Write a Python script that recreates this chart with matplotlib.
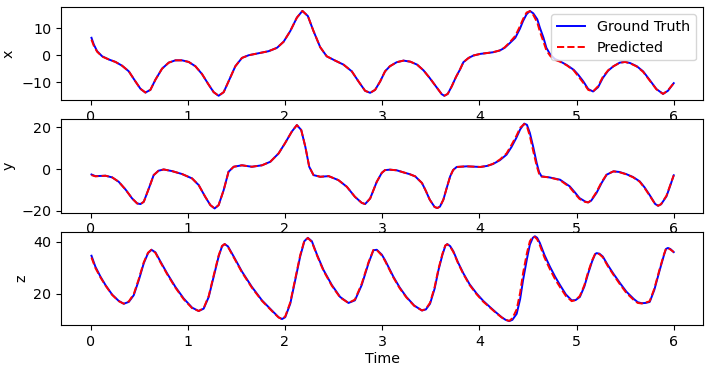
import matplotlib
matplotlib.use("Agg")
import matplotlib.pyplot as plt

# ---- data ----
t_x = [0.01, 0.034, 0.068, 0.12, 0.19, 0.257, 0.325, 0.394, 0.462, 0.514, 0.565, 0.616, 0.668,
       0.736, 0.805, 0.873, 0.942, 1.01, 1.079, 1.147, 1.216, 1.267, 1.318, 1.37, 1.42, 1.49,
       1.558, 1.627, 1.73, 1.832, 1.918, 1.986, 2.055, 2.123, 2.18, 2.236, 2.294, 2.363, 2.43,
       2.517, 2.603, 2.688, 2.757, 2.825, 2.877, 2.928, 2.98, 3.03, 3.08, 3.15, 3.22, 3.29, 3.36,
       3.425, 3.49, 3.58, 3.613, 3.64, 3.675, 3.716, 3.76, 3.80, 3.836, 3.89, 3.94, 4.01, 4.14,
       4.21, 4.26, 4.31, 4.37, 4.418, 4.45, 4.486, 4.52, 4.555, 4.596, 4.623, 4.66, 4.69, 4.73,
       4.777, 4.83, 4.897, 4.97, 5.017, 5.07, 5.12, 5.17, 5.222, 5.27, 5.325, 5.38, 5.445, 5.50,
       5.55, 5.62, 5.685, 5.75, 5.822, 5.89, 5.94, 6.0]
x_true = [6.5, 4.0, 1.5, -0.4, -1.6, -2.5, -3.9, -6.0, -9.75, -12.5, -13.9, -12.9, -9.1,
          -5.0, -2.75, -1.9, -1.9, -2.5, -4.1, -7.0, -11.0, -13.75, -15.1, -13.75, -9.75, -4.1,
          -1.0, 0.0, 0.75, 1.5, 2.75, 5.0, 9.0, 14.0, 16.5, 14.6, 9.0, 3.0, -0.4,
          -2.0, -3.5, -6.0, -9.75, -13.25, -14.0, -12.9, -9.75, -6.0, -4.1, -2.6, -2.0, -2.4, -3.5,
          -5.6, -8.5, -12.9, -14.5, -15.1, -14.4, -11.6, -8.1, -5.4, -2.6, -1.0, -0.1, 0.5, 1.1,
          1.75, 2.75, 4.4, 6.5, 9.9, 12.75, 15.25, 16.5, 15.6, 13.4, 10.25, 6.5, 2.75, 0.25,
          -1.4, -2.25, -3.6, -5.4, -7.25, -9.75, -12.6, -13.5, -11.9, -8.5, -5.75, -4.1, -2.75, -2.5,
          -2.9, -4.1, -6.0, -9.1, -12.6, -14.4, -13.25, -10.4]
x_pred = [5.8, 3.5, 1.3, -0.5, -1.6, -2.5, -3.9, -6.0, -9.75, -12.5, -13.9, -12.9, -9.1,
          -5.0, -2.75, -1.9, -1.9, -2.5, -4.1, -7.0, -11.0, -13.75, -15.1, -13.75, -9.75, -4.1,
          -1.0, 0.0, 0.75, 1.5, 2.75, 5.0, 9.0, 14.0, 16.5, 14.6, 9.0, 3.0, -0.4,
          -2.0, -3.5, -6.0, -9.75, -13.25, -14.0, -12.9, -9.75, -6.0, -4.1, -2.6, -2.0, -2.4, -3.5,
          -5.6, -8.5, -12.9, -14.5, -15.1, -14.4, -11.6, -8.1, -5.4, -2.6, -1.0, -0.1, 0.5, 1.1,
          1.8, 2.9, 4.7, 7.2, 10.8, 13.5, 15.9, 16.4, 15.0, 12.2, 8.8, 5.0, 1.8, -0.3,
          -1.7, -2.4, -3.7, -5.6, -7.8, -10.3, -12.9, -13.5, -11.5, -8.1, -5.6, -4.1, -2.8, -2.5,
          -3.0, -4.2, -6.2, -9.3, -12.7, -14.4, -13.1, -10.4]

t_y = [0.01, 0.05, 0.154, 0.223, 0.29, 0.36, 0.428, 0.48, 0.514, 0.548, 0.60, 0.65, 0.70, 0.753,
       0.84, 0.942, 1.045, 1.113, 1.18, 1.233, 1.277, 1.318, 1.37, 1.42, 1.473, 1.558, 1.66,
       1.764, 1.85, 1.935, 2.0, 2.07, 2.123, 2.168, 2.21, 2.25, 2.294, 2.363, 2.45, 2.55, 2.637,
       2.72, 2.79, 2.825, 2.877, 2.945, 2.997, 3.03, 3.08, 3.15, 3.22, 3.28, 3.34, 3.41, 3.45,
       3.49, 3.54, 3.568, 3.595, 3.63, 3.665, 3.70, 3.73, 3.767, 3.87, 4.01, 4.08, 4.14, 4.21,
       4.28, 4.33, 4.38, 4.42, 4.462, 4.49, 4.52, 4.555, 4.59, 4.615, 4.64, 4.72, 4.83, 4.93,
       4.98, 5.03, 5.09, 5.12, 5.15, 5.205, 5.26, 5.31, 5.38, 5.44, 5.51, 5.58, 5.65, 5.70,
       5.75, 5.81, 5.84, 5.87, 5.925, 5.96, 6.0]
y_true = [-2.6, -3.4, -3.2, -4.0, -6.1, -9.8, -14.1, -16.5, -16.8, -15.7, -9.3, -2.9, -0.8, -0.2,
          -1.0, -2.4, -4.5, -7.7, -13.3, -17.3, -18.9, -17.3, -10.1, -1.3, 1.1, 1.8, 1.1,
          1.8, 3.5, 7.5, 12.3, 17.9, 21.1, 18.7, 10.7, 1.1, -2.9, -3.7, -3.4, -5.3, -8.5,
          -13.3, -16.2, -16.8, -14.1, -6.1, -1.8, -0.5, -0.3, -0.6, -1.6, -2.4, -3.5, -6.7, -10.5,
          -14.7, -18.2, -18.7, -18.0, -14.7, -9.0, -3.5, -0.5, 1.0, 1.3, 1.0, 1.5, 2.4, 4.2,
          6.9, 10.5, 14.9, 19.0, 21.8, 21.2, 17.3, 10.5, 2.9, -1.5, -3.5, -4.0, -5.1, -8.3,
          -11.0, -13.9, -15.6, -16.0, -15.2, -11.5, -6.5, -2.7, -1.1, -1.4, -2.4, -3.8, -5.9, -8.8,
          -12.3, -16.8, -17.6, -16.9, -13.1, -8.5, -3.0]
y_pred = [-2.9, -3.5, -3.2, -4.0, -6.1, -9.8, -14.1, -16.5, -16.8, -15.7, -9.3, -2.9, -0.8, -0.2,
          -1.0, -2.4, -4.5, -7.7, -13.3, -17.3, -18.9, -17.3, -10.1, -1.3, 1.1, 1.8, 1.1,
          1.8, 3.5, 7.5, 12.3, 17.9, 21.1, 18.7, 10.7, 1.1, -2.9, -3.7, -3.4, -5.3, -8.5,
          -13.3, -16.2, -16.8, -14.1, -6.1, -1.8, -0.5, -0.3, -0.6, -1.6, -2.4, -3.5, -6.7, -10.5,
          -14.7, -18.2, -18.7, -18.0, -14.7, -9.0, -3.5, -0.5, 1.0, 1.3, 1.0, 1.5, 2.5, 4.5,
          7.5, 11.5, 15.8, 19.8, 21.6, 20.4, 15.8, 8.5, 1.5, -2.3, -3.6, -4.0, -5.3, -8.7,
          -11.6, -14.3, -15.8, -16.0, -15.0, -11.0, -6.1, -2.6, -1.1, -1.5, -2.5, -3.9, -6.1, -9.1,
          -12.6, -16.9, -17.6, -16.8, -12.8, -8.2, -3.0]

t_z = [0.01, 0.05, 0.103, 0.154, 0.223, 0.29, 0.342, 0.394, 0.445, 0.497, 0.548, 0.592, 0.627,
       0.668, 0.719, 0.788, 0.873, 0.959, 1.045, 1.113, 1.164, 1.216, 1.267, 1.318, 1.353, 1.38,
       1.414, 1.473, 1.558, 1.66, 1.764, 1.866, 1.935, 1.97, 2.003, 2.055, 2.106, 2.157, 2.2,
       2.236, 2.277, 2.33, 2.397, 2.483, 2.568, 2.654, 2.72, 2.79, 2.86, 2.91, 2.945, 2.997,
       3.03, 3.116, 3.18, 3.25, 3.33, 3.41, 3.45, 3.493, 3.54, 3.58, 3.62, 3.65, 3.67, 3.70,
       3.733, 3.78, 3.836, 3.90, 3.973, 4.04, 4.11, 4.17, 4.23, 4.27, 4.308, 4.34, 4.384, 4.42,
       4.45, 4.49, 4.52, 4.55, 4.572, 4.595, 4.623, 4.67, 4.726, 4.78, 4.83, 4.89, 4.95, 4.99,
       5.034, 5.08, 5.12, 5.16, 5.19, 5.205, 5.235, 5.27, 5.32, 5.377, 5.45, 5.514, 5.59, 5.63,
       5.67, 5.71, 5.753, 5.80, 5.856, 5.90, 5.92, 5.94, 5.965, 6.0]
z_true = [34.7, 30.5, 26.6, 23.4, 19.7, 17.3, 16.2, 16.9, 19.5, 25.3, 31.8, 35.7, 37.0,
          36.0, 32.5, 27.9, 22.7, 18.2, 14.7, 13.4, 14.3, 18.8, 26.6, 34.4, 38.3, 39.2,
          38.3, 34.4, 28.6, 22.7, 17.5, 13.6, 11.0, 10.3, 11.0, 16.2, 25.3, 34.4, 40.3,
          41.6, 40.3, 35.1, 29.2, 23.4, 18.8, 16.5, 17.5, 23.4, 31.8, 36.8, 37.0, 35.1,
          33.0, 26.6, 22.5, 18.8, 15.5, 13.6, 14.0, 16.2, 22.0, 29.2, 35.0, 38.5, 39.2, 38.4,
          36.4, 32.2, 27.9, 23.7, 20.1, 17.3, 14.9, 12.9, 11.0, 10.0, 9.5, 10.0, 12.3, 18.0,
          25.3, 33.5, 39.0, 41.6, 42.2, 41.6, 39.6, 35.0, 30.5, 26.6, 23.4, 19.8, 17.5, 17.6,
          18.8, 22.8, 27.9, 32.5, 35.2, 35.7, 35.5, 34.4, 31.2, 27.9, 24.0, 20.8, 18.0, 16.8,
          16.4, 16.5, 16.9, 21.5, 29.2, 35.0, 37.3, 37.7, 37.3, 36.1]
z_pred = [34.0, 30.0, 26.3, 23.2, 19.6, 17.2, 16.2, 17.1, 19.9, 25.8, 32.2, 35.9, 37.0,
          35.8, 32.2, 27.6, 22.4, 17.9, 14.5, 13.4, 14.5, 19.2, 27.1, 34.8, 38.5, 39.2,
          38.1, 34.1, 28.3, 22.4, 17.3, 13.4, 10.9, 10.3, 11.3, 16.7, 25.8, 34.9, 40.5,
          41.5, 40.0, 34.8, 28.9, 23.1, 18.6, 16.5, 17.8, 23.9, 32.2, 36.9, 36.9, 34.8,
          32.7, 26.3, 22.2, 18.6, 15.4, 13.6, 14.2, 16.6, 22.6, 29.7, 35.4, 38.7, 39.1, 38.2,
          36.1, 31.9, 27.6, 23.4, 19.8, 17.0, 14.7, 12.7, 10.9, 10.0, 9.6, 10.6, 14.0, 20.5,
          28.0, 35.8, 40.3, 42.0, 41.9, 41.0, 38.7, 34.0, 29.5, 25.6, 22.6, 19.2, 17.2, 17.6,
          19.2, 23.3, 28.5, 32.9, 35.3, 35.6, 35.3, 34.1, 30.8, 27.5, 23.5, 20.3, 17.6, 16.5,
          16.3, 16.6, 17.2, 22.0, 29.7, 35.3, 37.4, 37.6, 37.1, 36.1]

series = [("x", t_x, x_true, t_x, x_pred, [-10, 0, 10]),
          ("y", t_y, y_true, t_y, y_pred, [-20, 0, 20]),
          ("z", t_z, z_true, t_z, z_pred, [20, 40])]

plt.rcParams["font.size"] = 10.3
fig, axes = plt.subplots(3, 1, figsize=(7.1, 3.71), dpi=100)
fig.subplots_adjust(left=0.0864, right=0.990, top=0.982, bottom=0.123, hspace=0.207)

for ax, (name, tt, tru, tp, pred, yt) in zip(axes, series):
    ax.plot(tt, tru, color="blue", lw=1.4, label="Ground Truth")
    ax.plot(tp, pred, color="red", ls="--", lw=1.4, label="Predicted")
    ax.set_ylabel(name)
    ax.set_yticks(yt)
    ax.set_xticks([0, 1, 2, 3, 4, 5, 6])
    ax.set_xlim(-0.3, 6.3)

axes[0].legend(loc="upper right")
axes[2].set_xlabel("Time", labelpad=2)

fig.savefig("out.png", dpi=100)
